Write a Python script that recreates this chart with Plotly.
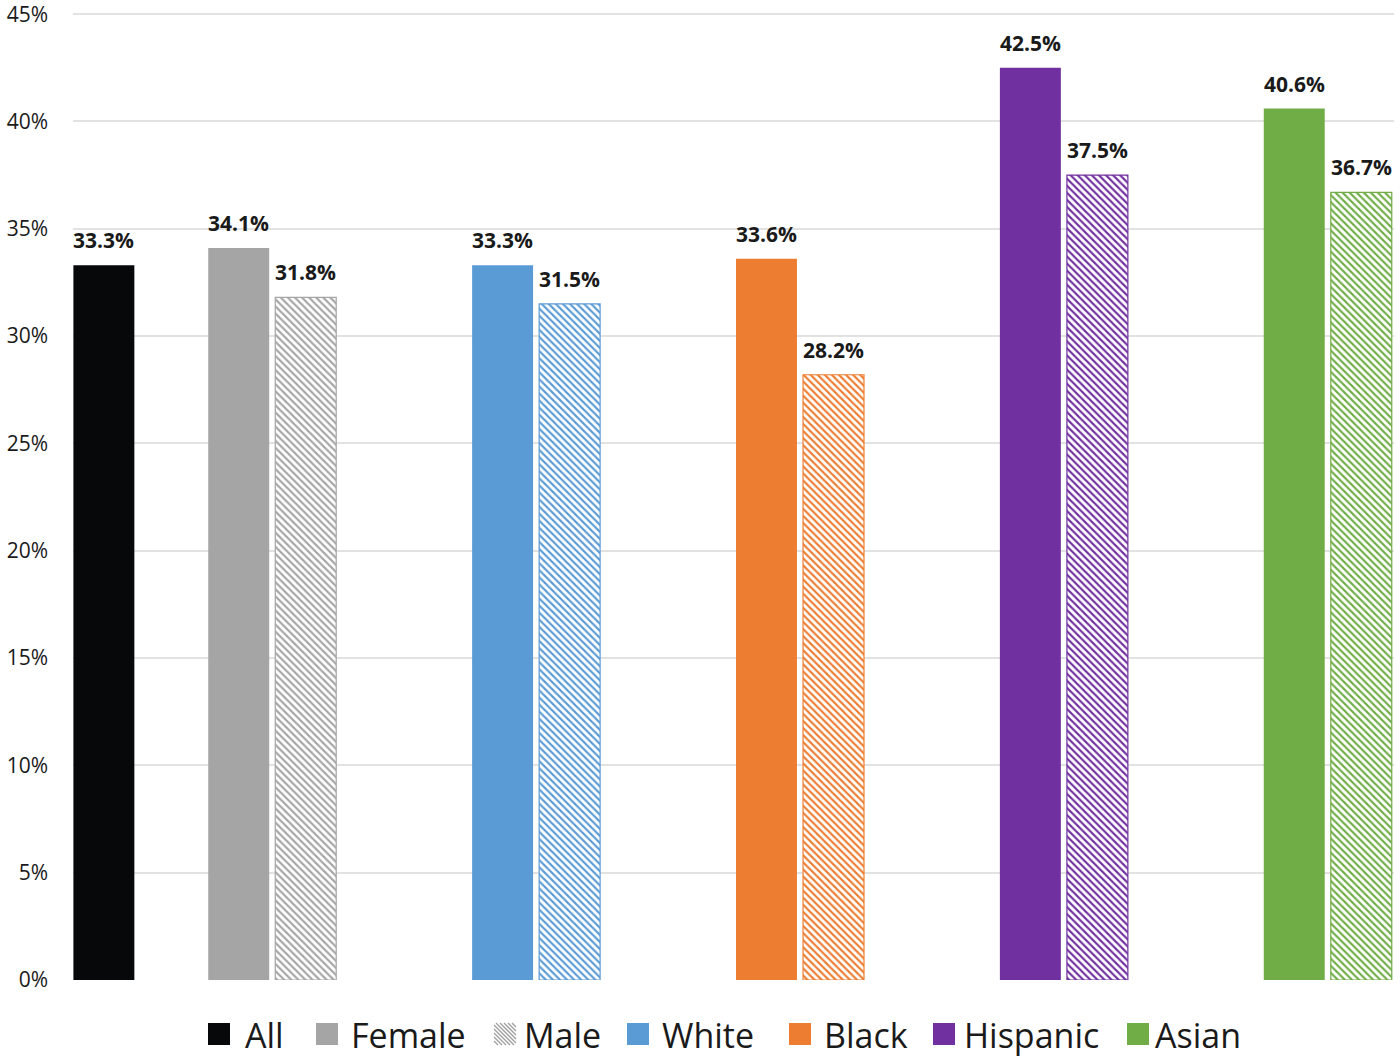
import plotly.graph_objects as go

# ---------------- data ----------------
categories = ["All", "Sex", "White", "Black", "Hispanic", "Asian"]
all_value = [33.3]
female_value = [34.1]
male_value = [31.8]
races = ["White", "Black", "Hispanic", "Asian"]
race_solid = [33.3, 33.6, 42.5, 40.6]
race_hatched = [31.5, 28.2, 37.5, 36.7]
tick_values = [0, 5, 10, 15, 20, 25, 30, 35, 40, 45]
tick_labels = ["0%", "5%", "10%", "15%", "20%", "25%", "30%", "35%", "40%", "45%"]
legend_names = ["All", "Female", "Male", "White", "Black", "Hispanic", "Asian"]

# ---------------- style ----------------
FONT = "Open Sans"
TXT = "#1a1a1a"
colors = {
    "All": "#060809",
    "Female": "#a5a5a5",
    "Male": "#a5a5a5",
    "White": "#5b9bd5",
    "Black": "#ed7d31",
    "Hispanic": "#7030a0",
    "Asian": "#70ad47",
}
W = 0.231            # bar width (category units)
SOLID_OFF = -0.2425  # left edge of solid bar relative to category
HATCH_OFF = 0.0115   # left edge of hatched bar relative to category
ALL_OFF = 0.2465     # left edge of the overall bar
ML, MR, MT, MB = 73, 6, 12, 81
YMAX = 45.1

fig = go.Figure()
annotations = []


def add_bar(cat, values, color, offset, hatched):
    xi = categories.index(cat)
    marker = dict(color=color, line=dict(width=0))
    if hatched:
        marker = dict(
            color=color,
            line=dict(color=color, width=1.2),
            pattern=dict(shape="\\", fgcolor=color, bgcolor="white",
                         size=5, solidity=0.42, fillmode="replace"),
        )
    fig.add_trace(go.Bar(x=[xi], y=values, width=W, offset=offset,
                         marker=marker, showlegend=False, hoverinfo="y"))
    for v in values:
        annotations.append(dict(
            x=xi + offset + W / 2, y=v, xref="x", yref="y",
            text=f"{v:.1f}%", showarrow=False, yanchor="middle", yshift=25,
            font=dict(family=FONT, size=21, color=TXT, weight="bold")))


add_bar("All", all_value, colors["All"], ALL_OFF, False)
add_bar("Sex", female_value, colors["Female"], SOLID_OFF, False)
add_bar("Sex", male_value, colors["Male"], HATCH_OFF, True)
for r, vs, vh in zip(races, race_solid, race_hatched):
    add_bar(r, [vs], colors[r], SOLID_OFF, False)
    add_bar(r, [vh], colors[r], HATCH_OFF, True)

# ---------------- manual legend (large swatches) ----------------
sw_left = [208, 316, 494, 627, 789, 933, 1127]
tx_left = [243, 349, 522, 660, 822, 962, 1153]
SW = 22
sw_top, sw_bot = 1023, 1045
plot_bottom = 1061 - MB
shapes = []
for name, sx, tx in zip(legend_names, sw_left, tx_left):
    x0 = sx - ML
    if name == "Male":
        # hatched swatch: "\" diagonal lines clipped to the square
        step = 4
        c = -SW
        while c <= SW:
            a = max(0, c)
            b = min(SW, SW + c)
            if b > a:
                shapes.append(dict(
                    type="line", xref="paper", yref="paper",
                    xsizemode="pixel", ysizemode="pixel", xanchor=0, yanchor=0,
                    x0=x0 + a, x1=x0 + b,
                    y0=-(sw_top + (a - c) - plot_bottom),
                    y1=-(sw_top + (b - c) - plot_bottom),
                    line=dict(color="#a0a0a0", width=1.3)))
            c += step
    else:
        shapes.append(dict(
            type="rect", xref="paper", yref="paper",
            xsizemode="pixel", ysizemode="pixel", xanchor=0, yanchor=0,
            x0=x0, x1=x0 + SW,
            y0=-(sw_bot - plot_bottom), y1=-(sw_top - plot_bottom),
            fillcolor=colors[name], line=dict(width=0)))
    annotations.append(dict(
        xref="paper", yref="paper", x=0, y=0, xshift=tx - ML,
        yshift=-((sw_top + sw_bot) / 2 + 1 - plot_bottom),
        xanchor="left", yanchor="middle", showarrow=False, text=name,
        font=dict(family=FONT, size=34, color=TXT)))

fig.update_layout(
    width=1400, height=1061,
    margin=dict(l=ML, r=MR, t=MT, b=MB, autoexpand=False),
    paper_bgcolor="white", plot_bgcolor="white",
    barmode="overlay",
    showlegend=False,
    xaxis=dict(range=[0.245, 5.251], showgrid=False, zeroline=False,
               showticklabels=False, ticks="", showline=False, fixedrange=True,
               automargin=False),
    yaxis=dict(range=[0, YMAX], tickvals=tick_values, ticktext=tick_labels,
               showgrid=True, gridcolor="#e2e2e2", gridwidth=1.6,
               zeroline=False, showline=False, ticks="",
               ticklabelstandoff=24, ticklabeloverflow="allow",
               automargin=False,
               tickfont=dict(family=FONT, size=21, color=TXT)),
    annotations=annotations,
    shapes=shapes,
)

fig.write_html("out.html",
               config={"displayModeBar": False},
               post_script="document.body.style.margin='0';"
                           "document.body.style.padding='0';")
